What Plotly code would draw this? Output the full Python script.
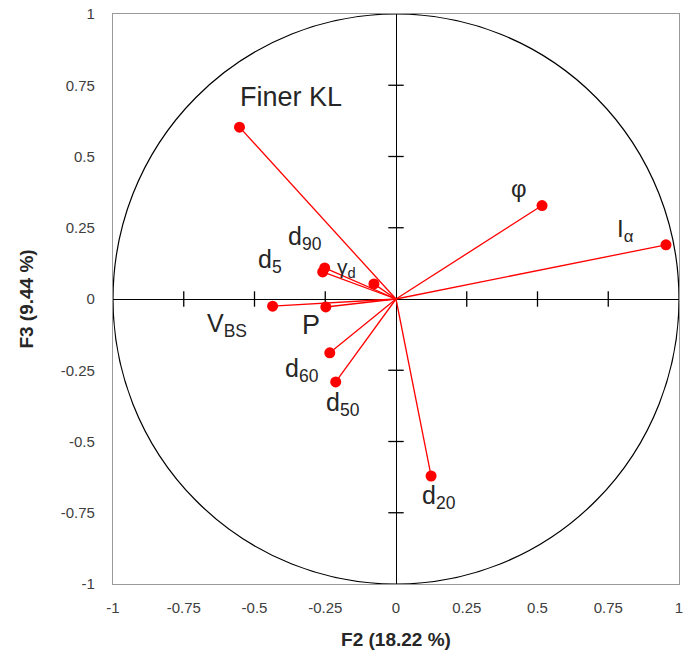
import plotly.graph_objects as go

# Variable loadings (F2, F3)
names = ["Finer KL", "φ", "I<sub>α</sub>", "d<sub>20</sub>", "d<sub>50</sub>", "d<sub>60</sub>",
         "P", "V<sub>BS</sub>", "d<sub>5</sub>", "d<sub>90</sub>", "γ<sub>d</sub>"]
f2 = [-0.553, 0.516, 0.954, 0.124, -0.213, -0.234, -0.248, -0.436, -0.259, -0.252, -0.078]
f3 = [0.603, 0.328, 0.190, -0.621, -0.291, -0.189, -0.028, -0.025, 0.095, 0.109, 0.053]

# label positions (F2, F3) for the text annotations
label_x = [-0.372, 0.433, 0.812, 0.152, -0.188, -0.333, -0.301, -0.596, -0.447, -0.323, -0.174]
label_y = [0.709, 0.389, 0.242, -0.695, -0.368, -0.249, -0.091, -0.091, 0.133, 0.214, 0.109]
label_size = [27, 24, 24, 25, 25, 25, 27, 25, 25, 25, 21]

tick_vals = [-1, -0.75, -0.5, -0.25, 0, 0.25, 0.5, 0.75, 1]
tick_text = ["-1", "-0.75", "-0.5", "-0.25", "0", "0.25", "0.5", "0.75", "1"]

FONT = "Liberation Sans, Arial"

fig = go.Figure()

# cross ticks on the zero lines
inner = [t for t in tick_vals if t not in (-1, 0, 1)]
fig.add_trace(go.Scatter(x=inner, y=[0] * len(inner), mode="markers",
                         marker=dict(symbol="line-ns-open", size=11, color="black", line=dict(width=1.3)),
                         hoverinfo="skip", showlegend=False))
fig.add_trace(go.Scatter(x=[0] * len(inner), y=inner, mode="markers",
                         marker=dict(symbol="line-ew-open", size=11, color="black", line=dict(width=1.3)),
                         hoverinfo="skip", showlegend=False))

# vectors
lx, ly = [], []
for a, b in zip(f2, f3):
    lx += [0, a, None]
    ly += [0, b, None]
fig.add_trace(go.Scatter(x=lx, y=ly, mode="lines", line=dict(color="#ff0000", width=1.3),
                         hoverinfo="skip", showlegend=False))
fig.add_trace(go.Scatter(x=f2, y=f3, mode="markers", marker=dict(color="#ff0000", size=11),
                         text=names, showlegend=False))

for n, x, y, s in zip(names, label_x, label_y, label_size):
    fig.add_annotation(x=x, y=y, text=n, showarrow=False,
                       font=dict(family=FONT, size=s, color="#262626"))

# unit circle
fig.add_shape(type="circle", xref="x", yref="y", x0=-1, y0=-1, x1=1, y1=1,
              line=dict(color="black", width=1.2), layer="below")

axis_common = dict(range=[-1, 1], tickvals=tick_vals, ticktext=tick_text,
                   showgrid=False, zeroline=True, zerolinecolor="black", zerolinewidth=1.3,
                   showline=True, mirror=True, linecolor="#999999", linewidth=1.3,
                   ticks="", automargin=False,
                   tickfont=dict(family=FONT, size=15, color="#404040"))

fig.update_layout(
    width=694, height=659,
    margin=dict(l=113, r=15, t=14, b=75, autoexpand=False),
    plot_bgcolor="white", paper_bgcolor="white",
    xaxis=dict(**axis_common, ticklabelstandoff=10,
               title=dict(text="<b>F2 (18.22 %)</b>", standoff=17,
                          font=dict(family=FONT, size=19, color="#262626"))),
    yaxis=dict(**axis_common, ticklabelstandoff=14,
               title=dict(text="<b>F3 (9.44 %)</b>", standoff=21,
                          font=dict(family=FONT, size=19, color="#262626"))),
    font=dict(family=FONT),
)

fig.write_html("out.html", config={"displayModeBar": False},
               post_script="document.body.style.margin='0';")
